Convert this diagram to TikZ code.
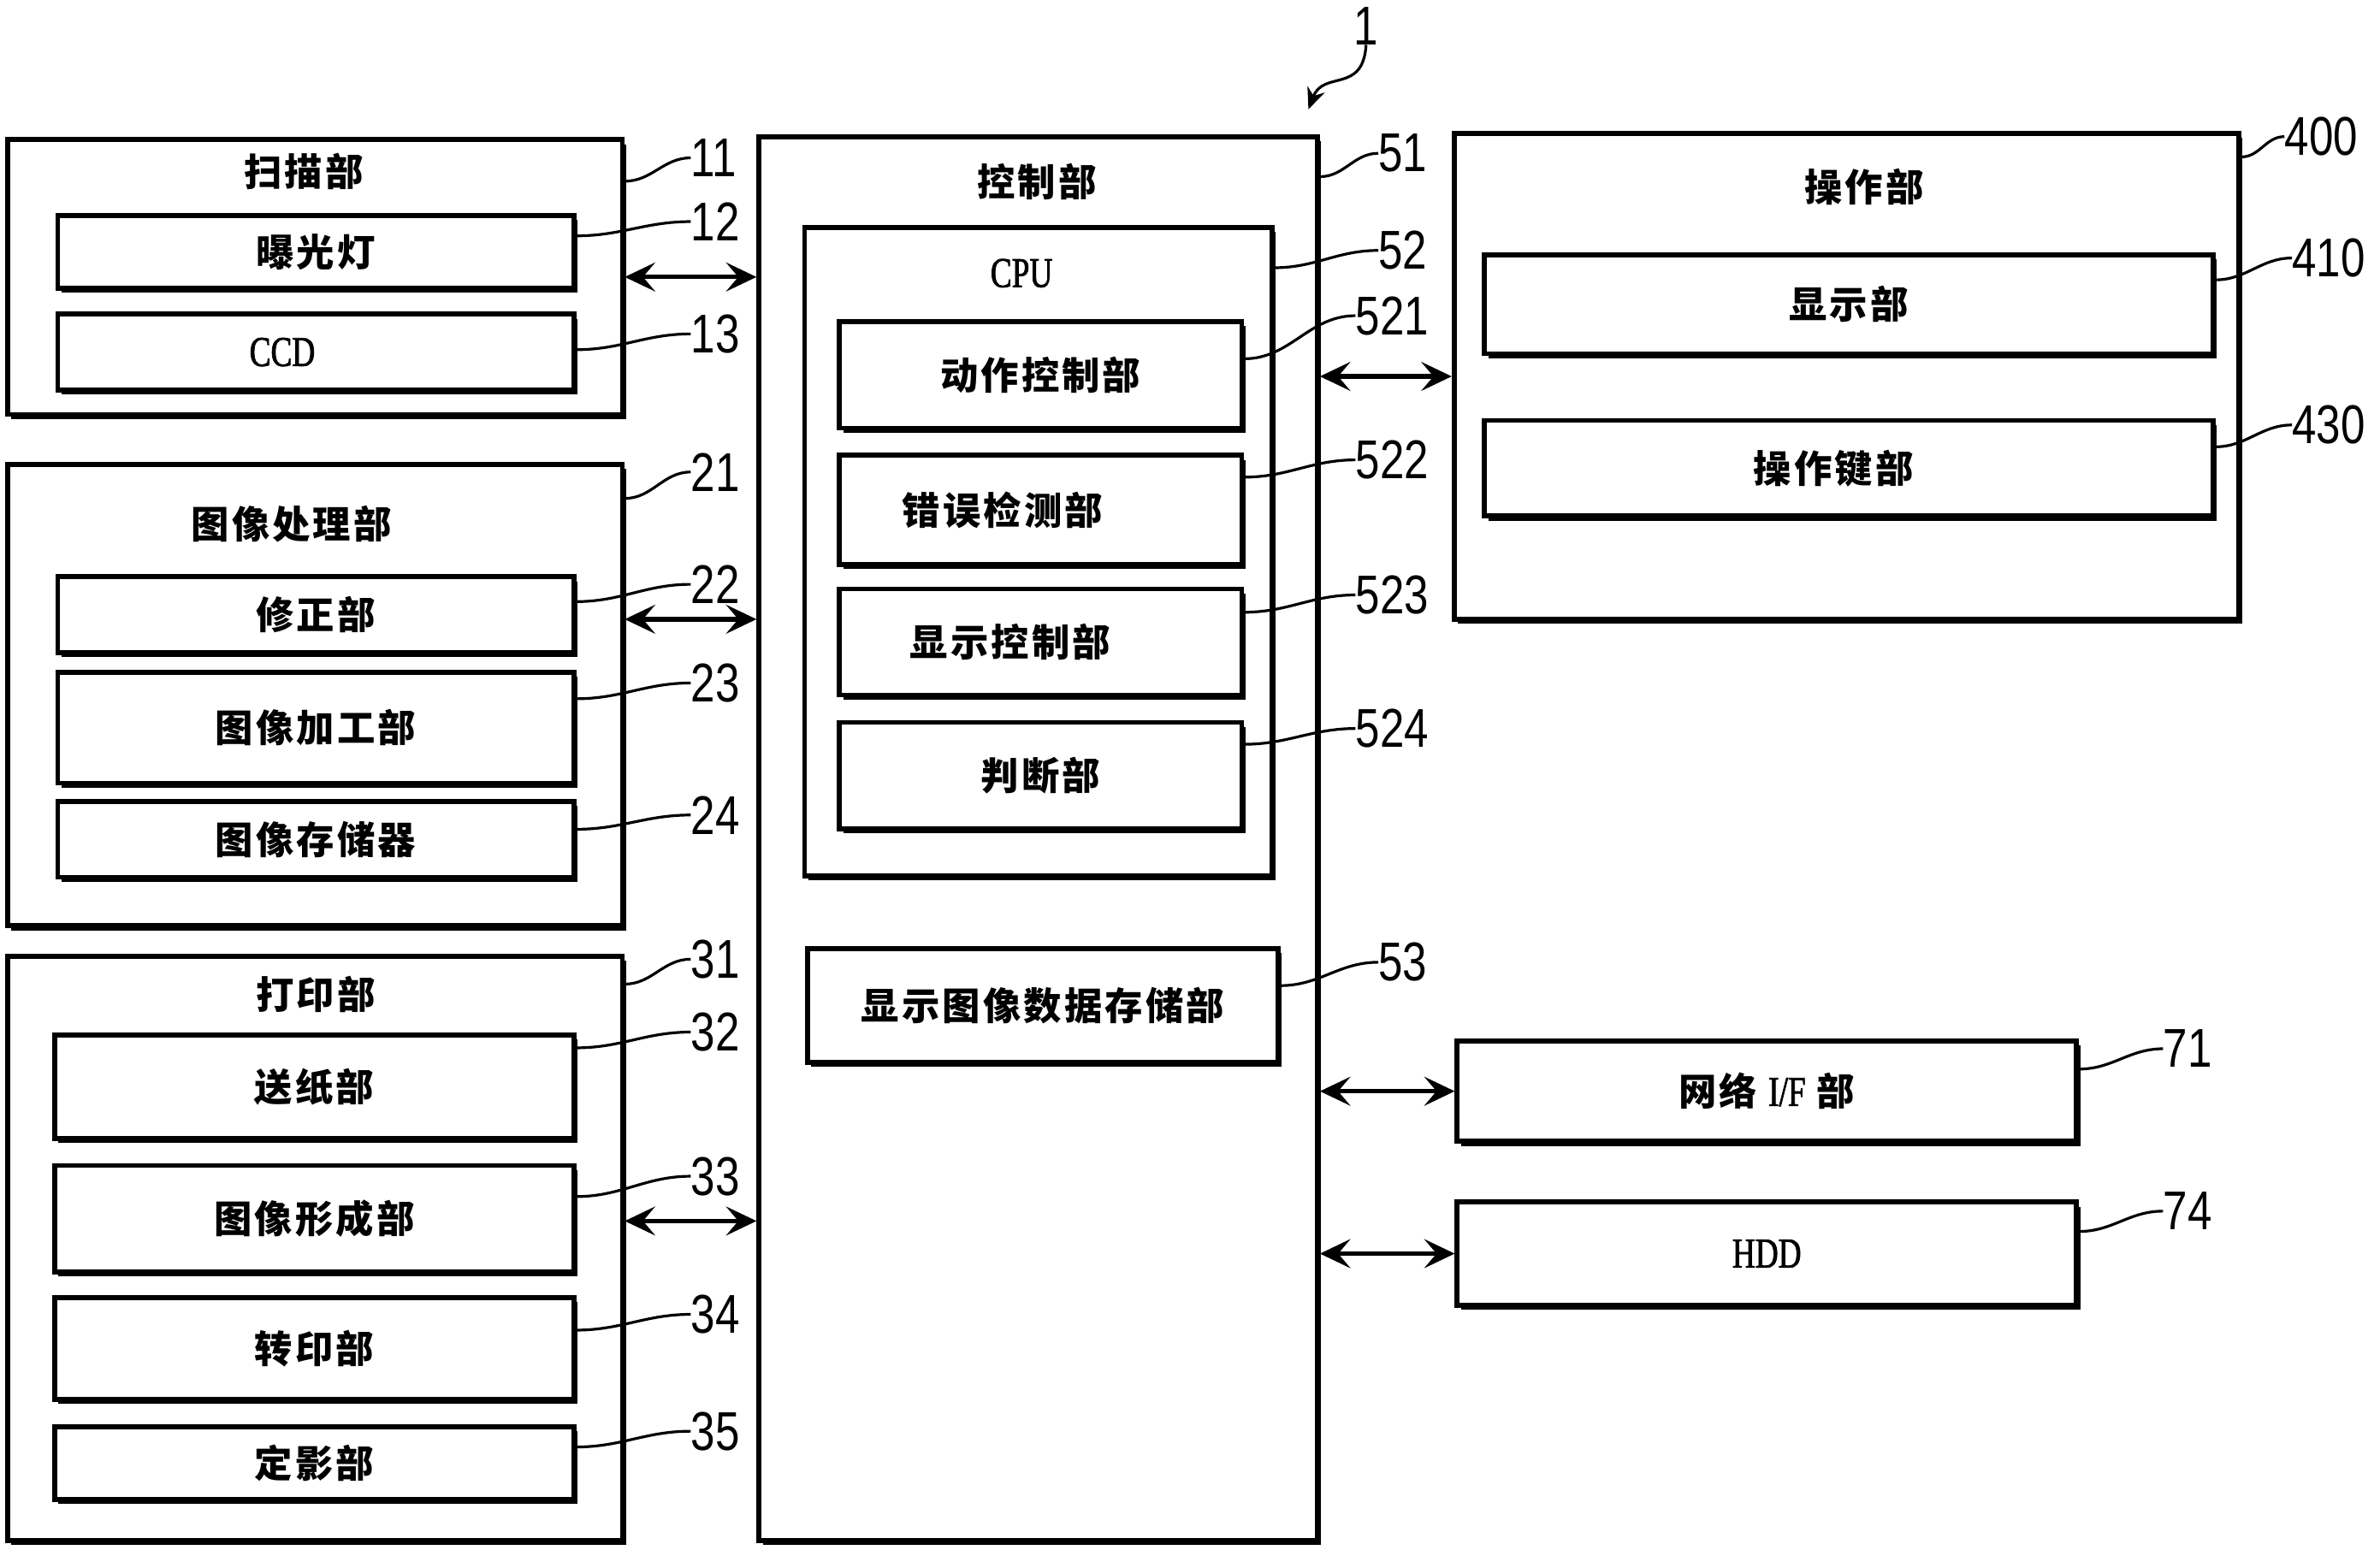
\documentclass[tikz,border=0pt]{standalone}
\usepackage{fontspec}
\newfontfamily\cjk{Noto Sans CJK SC}[LetterSpace=7]
\newfontfamily\numfont{Liberation Sans}[FakeStretch=0.8]
\newfontfamily\latfont{Liberation Serif}[FakeStretch=0.75,FakeBold=1.5]
\usetikzlibrary{arrows.meta,shadows}
\tikzset{
  unitbox/.style={draw,line width=3.2pt,fill=white,inner sep=0pt,
    general shadow={fill=black,shadow xshift=2.5pt,shadow yshift=-3pt}},
  part/.style={unitbox,font=\cjk\bfseries\fontsize{25}{30}\selectfont},
  title/.style={inner sep=0pt,font=\cjk\bfseries\fontsize{25}{30}\selectfont},
  refnum/.style={anchor=west,inner sep=0pt,font=\numfont\fontsize{36}{40}\selectfont},
  lead/.style={line width=1.8pt},
  link/.style={line width=3pt,{Stealth[length=20pt,width=19pt,inset=8pt]}-{Stealth[length=20pt,width=19pt,inset=8pt]}}
}
\begin{document}
\begin{tikzpicture}[x=1pt,y=-1pt]
    \useasboundingbox (0,0) rectangle (1568,1021);
    %% Outer units
    \node[unitbox,minimum width=405pt,minimum height=181pt] (scan) at (207.5,182.5) {};
    \node[unitbox,minimum width=405pt,minimum height=304pt] (ip) at (207.5,458) {};
    \node[unitbox,minimum width=405pt,minimum height=385pt] (prn) at (207.5,822.5) {};
    \node[unitbox,minimum width=368pt,minimum height=925pt] (ctrl) at (684,552.5) {};
    \node[unitbox,minimum width=517pt,minimum height=320pt] (op) at (1216.5,248) {};
    \node[title] (scant) at (200,113) {扫描部};
    \node[title] (ipt) at (192,345) {图像处理部};
    \node[title] (prnt) at (208,655) {打印部};
    \node[title] (ctrlt) at (683,120) {控制部};
    \node[title] (opt) at (1228,123) {操作部};
    %% Scanner parts
    \node[part,minimum width=340pt,minimum height=48pt] (lamp) at (208,166) {曝光灯};
    \node[part,minimum width=340pt,minimum height=50pt] (ccd) at (208,232) {\latfont\mdseries\fontsize{28}{30}\selectfont\hspace*{-44pt}CCD};
    %% Image processing parts
    \node[part,minimum width=340pt,minimum height=50pt] (corr) at (208,405) {修正部};
    \node[part,minimum width=340pt,minimum height=73pt] (proc) at (208,479.5) {图像加工部};
    \node[part,minimum width=340pt,minimum height=50pt] (mem) at (208,553) {图像存储器};
    %% Printer parts
    \node[part,minimum width=342pt,minimum height=68pt] (feed) at (207,716) {送纸部};
    \node[part,minimum width=342pt,minimum height=70pt] (form) at (207,803) {图像形成部};
    \node[part,minimum width=342pt,minimum height=67pt] (xfer) at (207,888.5) {转印部};
    \node[part,minimum width=342pt,minimum height=48pt] (fix) at (207,964) {定影部};
    %% Control parts
    \node[unitbox,minimum width=308pt,minimum height=427pt] (cpu) at (684,363.5) {};
    \node[title,font=\latfont\fontsize{28}{30}\selectfont] (cput) at (673,180) {CPU};
    \node[part,minimum width=265pt,minimum height=70pt] (act) at (685.5,247) {动作控制部};
    \node[part,minimum width=265pt,minimum height=72pt] (err) at (685.5,336) {\hspace*{-50pt}错误检测部};
    \node[part,minimum width=265pt,minimum height=70pt] (disp) at (685.5,423) {\hspace*{-40pt}显示控制部};
    \node[part,minimum width=265pt,minimum height=70pt] (judge) at (685.5,511) {判断部};
    \node[part,minimum width=310pt,minimum height=75pt] (dimg) at (687,662.5) {显示图像数据存储部};
    %% Operation parts
    \node[part,minimum width=480pt,minimum height=65pt] (show) at (1218,200.5) {显示部};
    \node[part,minimum width=480pt,minimum height=63pt] (keys) at (1218,308.5) {\hspace*{-20pt}操作键部};
    %% Other units
    \node[part,minimum width=408pt,minimum height=66pt] (net) at (1164,719) {网络 {\latfont\mdseries\fontsize{28}{30}\selectfont I/F} 部};
    \node[part,minimum width=408pt,minimum height=68pt] (hdd) at (1164,826) {\latfont\mdseries\fontsize{28}{30}\selectfont HDD};
    %% Buses
    \draw[link] (scan.east) -- (scan.east -| ctrl.west);
    \draw[link] ([yshift=50pt]ip.east) -- ([yshift=50pt]ip.east -| ctrl.west);
    \draw[link] ([yshift=18pt]prn.east) -- ([yshift=18pt]prn.east -| ctrl.west);
    \draw[link] (op.west -| ctrl.east) -- (op.west);
    \draw[link] (net.west -| ctrl.east) -- (net.west);
    \draw[link] (hdd.west -| ctrl.east) -- (hdd.west);
    %% Reference numbers
    \node[refnum,anchor=center] (n1) at (900,17) {1};
    \coordinate (sys) at (862,72);
    \draw[lead,-{Stealth[length=14pt,width=12pt]}] (n1.south) .. controls (898,62) and (872,46) .. (sys);
    \node[refnum] (n11) at (455,104) {11};
    \node[refnum] (n12) at (455,146) {12};
    \node[refnum] (n13) at (455,220) {13};
    \node[refnum] (n21) at (455,311) {21};
    \node[refnum] (n22) at (455,385) {22};
    \node[refnum] (n23) at (455,450) {23};
    \node[refnum] (n24) at (455,537) {24};
    \node[refnum] (n31) at (455,632) {31};
    \node[refnum] (n32) at (455,680) {32};
    \node[refnum] (n33) at (455,775) {33};
    \node[refnum] (n34) at (455,866) {34};
    \node[refnum] (n35) at (455,943) {35};
    \node[refnum] (n51) at (908,101) {51};
    \node[refnum] (n52) at (908,165) {52};
    \node[refnum] (n521) at (893,208) {521};
    \node[refnum] (n522) at (893,303) {522};
    \node[refnum] (n523) at (893,392) {523};
    \node[refnum] (n524) at (893,480) {524};
    \node[refnum] (n53) at (908,634) {53};
    \node[refnum] (n400) at (1505,90) {400};
    \node[refnum] (n410) at (1510,170) {410};
    \node[refnum] (n430) at (1510,280) {430};
    \node[refnum] (n71) at (1425,691) {71};
    \node[refnum] (n74) at (1425,798) {74};
    %% Leaders
    \draw[lead] ([yshift=-29pt]scan.north east) to[out=0,in=180] (n11.west);
    \draw[lead] ([yshift=-15pt]lamp.north east) to[out=0,in=180] (n12.west);
    \draw[lead] ([yshift=-25pt]ccd.north east) to[out=0,in=180] (n13.west);
    \draw[lead] ([yshift=-24pt]ip.north east) to[out=0,in=180] (n21.west);
    \draw[lead] ([yshift=-18pt]corr.north east) to[out=0,in=180] (n22.west);
    \draw[lead] ([yshift=-19pt]proc.north east) to[out=0,in=180] (n23.west);
    \draw[lead] ([yshift=-20pt]mem.north east) to[out=0,in=180] (n24.west);
    \draw[lead] ([yshift=-20pt]prn.north east) to[out=0,in=180] (n31.west);
    \draw[lead] ([yshift=-10pt]feed.north east) to[out=0,in=180] (n32.west);
    \draw[lead] ([yshift=-22pt]form.north east) to[out=0,in=180] (n33.west);
    \draw[lead] ([yshift=-23pt]xfer.north east) to[out=0,in=180] (n34.west);
    \draw[lead] ([yshift=-15pt]fix.north east) to[out=0,in=180] (n35.west);
    \draw[lead] ([yshift=-28pt]ctrl.north east) to[out=0,in=180] (n51.west);
    \draw[lead] ([yshift=-28pt]cpu.north east) to[out=0,in=180] (n52.west);
    \draw[lead] ([yshift=-26pt]act.north east) to[out=0,in=180] (n521.west);
    \draw[lead] ([yshift=-16pt]err.north east) to[out=0,in=180] (n522.west);
    \draw[lead] ([yshift=-17pt]disp.north east) to[out=0,in=180] (n523.west);
    \draw[lead] ([yshift=-16pt]judge.north east) to[out=0,in=180] (n524.west);
    \draw[lead] ([yshift=-26pt]dimg.north east) to[out=0,in=180] (n53.west);
    \draw[lead] ([yshift=-17pt]op.north east) to[out=0,in=180] (n400.west);
    \draw[lead] ([yshift=-18pt]show.north east) to[out=0,in=180] (n410.west);
    \draw[lead] ([yshift=-19pt]keys.north east) to[out=0,in=180] (n430.west);
    \draw[lead] ([yshift=-20pt]net.north east) to[out=0,in=180] (n71.west);
    \draw[lead] ([yshift=-21pt]hdd.north east) to[out=0,in=180] (n74.west);
\end{tikzpicture}
\end{document}
